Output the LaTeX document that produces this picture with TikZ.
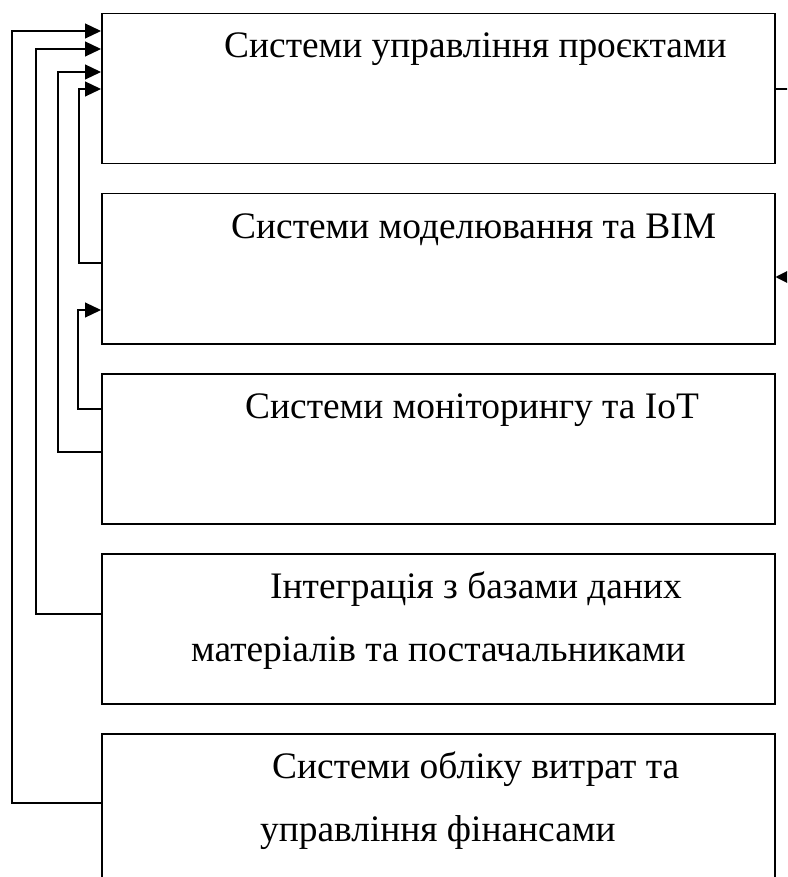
\documentclass[tikz,border=0pt]{standalone}
\usepackage{fontspec}
\setmainfont{Liberation Serif}
\usetikzlibrary{arrows.meta}
\begin{document}
\begin{tikzpicture}[x=1pt,y=-1pt,
  box/.style={draw,line width=1.5pt,rectangle,anchor=north west,minimum width=673pt,minimum height=150pt,inner sep=0pt},
  lbl/.style={anchor=base west,inner sep=0pt,font=\fontsize{37.4}{40}\selectfont},
  conn/.style={line width=1.2pt},
  arr/.style={conn,-{Triangle[length=16pt,width=15pt]}},
  rarr/.style={conn,-{Triangle[length=13pt,width=13pt]}}]
\useasboundingbox (0,0) rectangle (787,877);
\clip (0,0) rectangle (787,877);
\node[box] (b1) at (101,13) {};
\node[box] (b2) at (101,193) {};
\node[box] (b3) at (101,373) {};
\node[box] (b4) at (101,553) {};
\node[box,minimum height=170pt] (b5) at (101,733) {};
\node[lbl] (t1) at (224,58) {Системи управління проєктами};
\node[lbl] (t2) at (231,238) {Системи моделювання та BIM};
\node[lbl] (t3) at (245,418) {Системи моніторингу та IoT};
\node[lbl] (t4a) at (270,598) {Інтеграція з базами даних};
\node[lbl] (t4b) at (191,661) {матеріалів та постачальниками};
\node[lbl] (t5a) at (272,778) {Системи обліку витрат та};
\node[lbl] (t5b) at (260,841) {управління фінансами};
\coordinate (rA) at (800,89);
\coordinate (rB) at (788,277);
% left connectors
\draw[arr] (b5.west |- 0,803) -| (12,31) -- (b1.west |- 0,31);
\draw[arr] (b4.west |- 0,614) -| (36,49) -- (b1.west |- 0,49);
\draw[arr] (b3.west |- 0,452) -| (58,72) -- (b1.west |- 0,72);
\draw[arr] (b2.west |- 0,263) -| (79,89) -- (b1.west |- 0,89);
\draw[arr] (b3.west |- 0,409) -| (78,310) -- (b2.west |- 0,310);
% right connectors
\draw[conn] (b1.east |- 0,89) -- (rA);
\draw[rarr] (rB) -- (b2.east |- 0,277);
\end{tikzpicture}
\end{document}
